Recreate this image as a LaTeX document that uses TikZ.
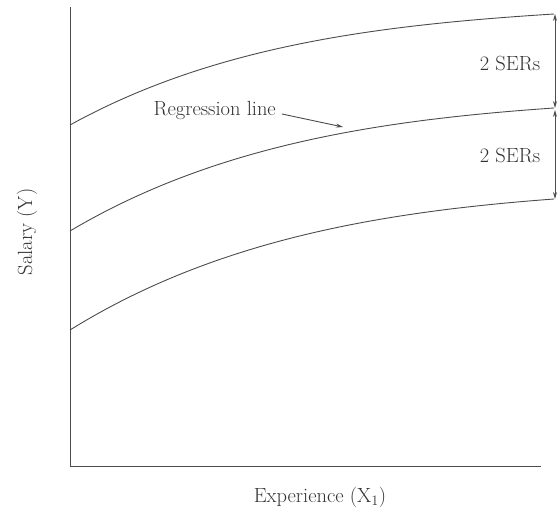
\documentclass[tikz,border=0pt]{standalone}
\usetikzlibrary{arrows.meta}
\begin{document}
\begin{tikzpicture}[x=1pt,y=-1pt,
  ln/.style={draw=black!70,line width=0.9pt},
  lbl/.style={text=black!80,font=\fontsize{20.5}{24}\selectfont,inner sep=0pt},
  tip/.style={-{Stealth[length=7pt,width=4pt]}},
  dtip/.style={{Stealth[length=7pt,width=4pt]}-{Stealth[length=7pt,width=4pt]}}]
\useasboundingbox (0,0) rectangle (557,510);
% axes
\coordinate (ytop) at (70,7);
\coordinate (orig) at (70,466);
\coordinate (xend) at (541,466);
\draw[ln] (ytop) -- (orig) -- (xend);
% curves
\coordinate (u0) at (70,125);  \coordinate (u1) at (554,14);
\coordinate (m0) at (70,231);  \coordinate (m1) at (554,108);
\coordinate (l0) at (70,330);  \coordinate (l1) at (554,199);
\draw[ln] (u0) .. controls (215,45) and (380,25) .. (u1);
\draw[ln] (m0) .. controls (215,145) and (380,120) .. (m1);
\draw[ln] (l0) .. controls (215,240) and (380,212) .. (l1);
% SER arrows
\coordinate (a0) at (555,14);
\coordinate (a1) at (555,108);
\coordinate (a2) at (555,110);
\coordinate (a3) at (555,199);
\draw[ln,dtip] (a0) -- (a1);
\draw[ln,dtip] (a2) -- (a3);
\node[lbl] (s1) at (510,64) {2 SERs};
\node[lbl] (s2) at (510,156) {2 SERs};
% regression line label
\node[lbl,anchor=east] (reg) at (276,110) {Regression line};
\coordinate (regtip) at (343,127);
\draw[ln,tip] (reg.east) ++(6,4) -- (regtip);
% axis labels
\node[lbl,rotate=90] (ylab) at (27,232) {Salary (Y)};
\node[lbl] (xlab) at (320,497) {Experience (X$_1$)};
\end{tikzpicture}
\end{document}
